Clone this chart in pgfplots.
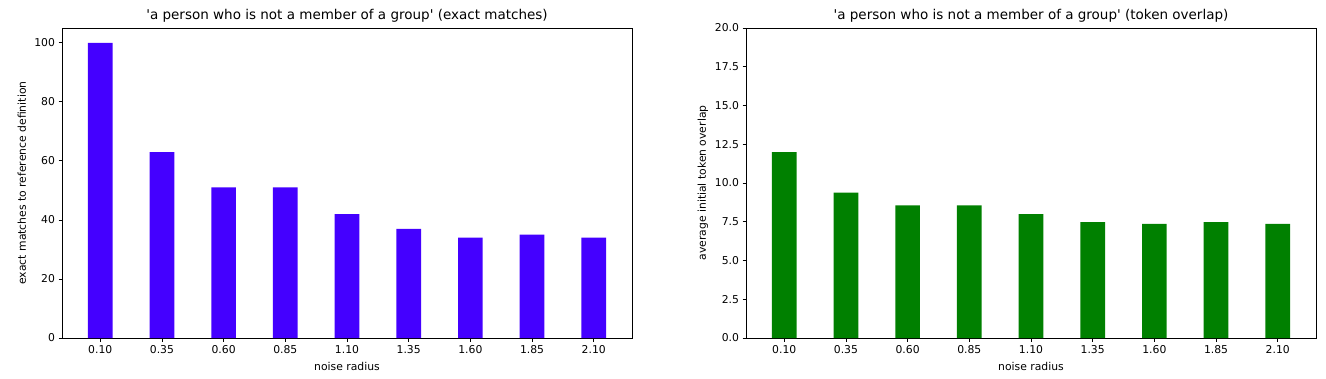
\documentclass[border=0pt]{standalone}
\usepackage{pgfplots}
\pgfplotsset{compat=1.18}
\usepackage{fontspec}
\setmainfont{DejaVu Sans}[Ligatures=TeXOff]
\definecolor{barblue}{HTML}{4400FF}
\definecolor{bargreen}{HTML}{008000}
\pgfplotsset{
  mystyle/.style={
    scale only axis,
    width=570pt, height=310pt,
    anchor=south west,
    xmin=-0.62, xmax=8.62,
    ymin=0,
    xtick={0,1,2,3,4,5,6,7,8},
    xticklabels={0.10,0.35,0.60,0.85,1.10,1.35,1.60,1.85,2.10},
    tick align=outside,
    tick pos=left,
    major tick length=3.5pt,
    every tick/.style={black, line width=0.8pt},
    axis line style={line width=0.8pt},
    /pgf/number format/assume math mode=true,
    tick label style={font=\fontsize{10.8}{12}\selectfont},
    label style={font=\fontsize{10.8}{12}\selectfont},
    title style={font=\fontsize{13.5}{15}\selectfont, yshift=-4pt},
    xlabel={noise radius},
    xlabel style={yshift=-2pt},
    ybar, bar width=0.4, bar shift=0pt,
  }
}
\begin{document}
\begin{tikzpicture}
\path[use as bounding box] (0,0) rectangle (1326pt,378pt);
\begin{axis}[mystyle, at={(62pt,40pt)},
  ymax=105,
  ytick={0,20,40,60,80,100},
  title={'a person who is not a member of a group' (exact matches)},
  ylabel={exact matches to reference definition},
  ylabel style={yshift=1.5pt},
]
\addplot[fill=barblue, draw=none] coordinates {
(0,100) (1,63) (2,51) (3,51) (4,42) (5,37) (6,34) (7,35) (8,34)};
\end{axis}
\begin{axis}[mystyle, at={(746pt,40pt)},
  ymax=20,
  ytick={0,2.5,5,7.5,10,12.5,15,17.5,20},
  yticklabel style={/pgf/number format/.cd, fixed, fixed zerofill, precision=1},
  title={'a person who is not a member of a group' (token overlap)},
  ylabel={average initial token overlap},
  ylabel style={yshift=0pt},
]
\addplot[fill=bargreen, draw=none] coordinates {
(0,12.0) (1,9.38) (2,8.56) (3,8.56) (4,8.0) (5,7.48) (6,7.37) (7,7.48) (8,7.37)};
\end{axis}
\end{tikzpicture}
\end{document}
